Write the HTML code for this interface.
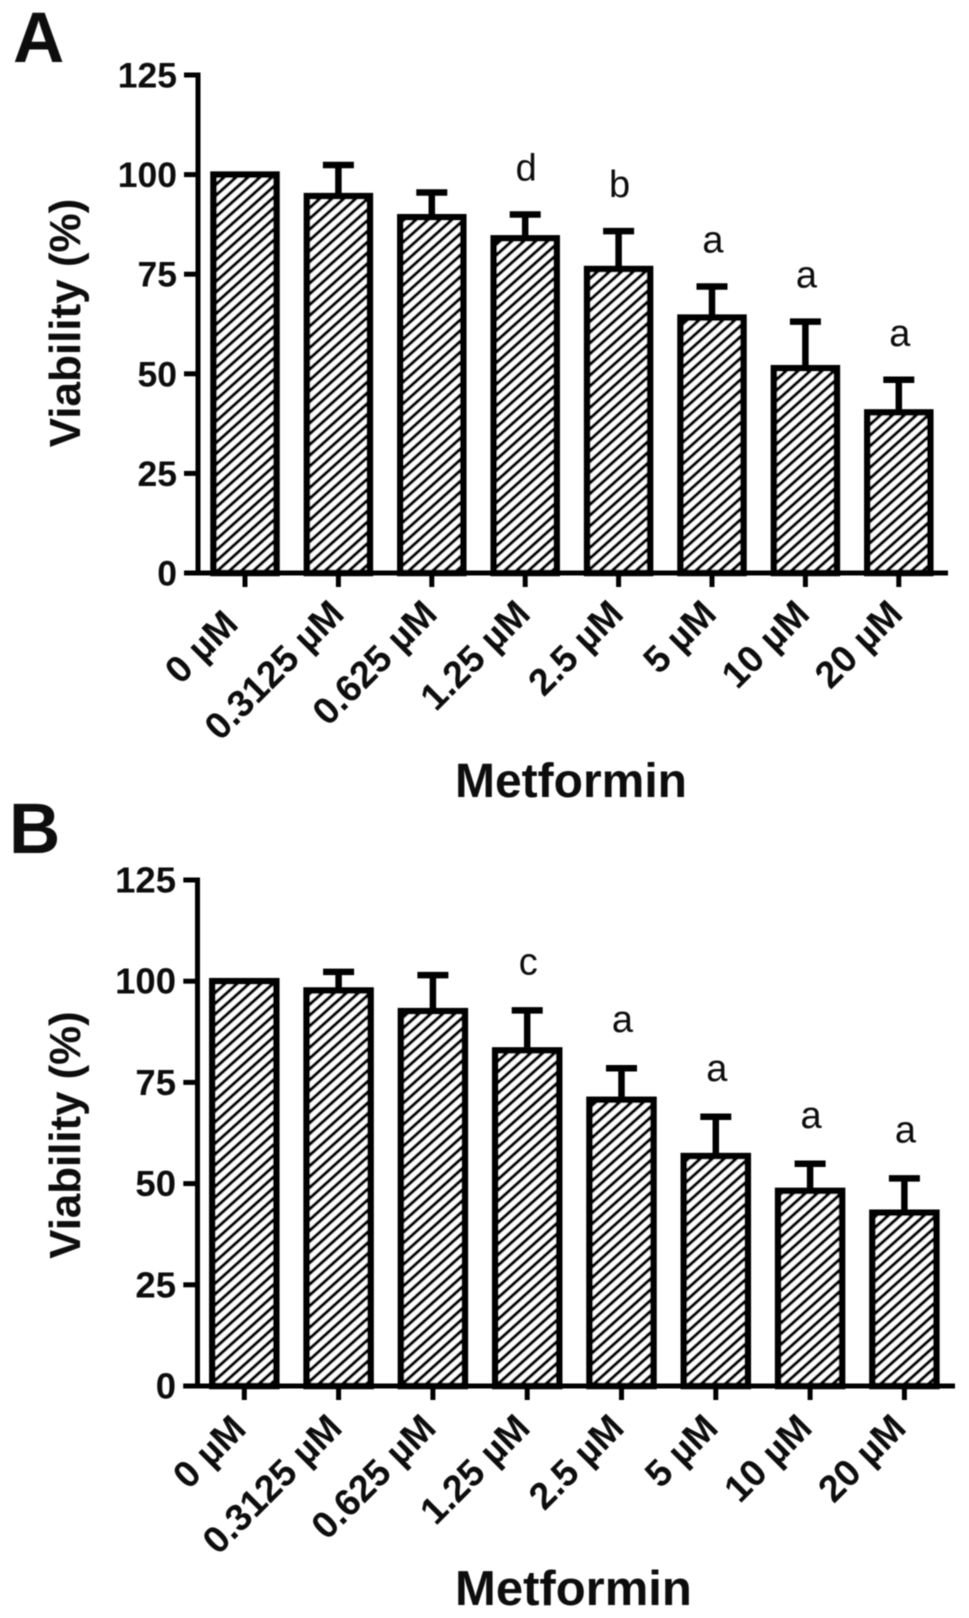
<!DOCTYPE html>
<html lang="en">
<head>
<meta charset="utf-8">
<title>Metformin viability bar charts</title>
<style>
html,body{margin:0;padding:0;background:#fff;width:969px;height:1618px;overflow:hidden}
svg{display:block}
text{font-family:"Liberation Sans",Arial,sans-serif;fill:#0a0a0a}
</style>
</head>
<body>
<svg id="figure" xmlns="http://www.w3.org/2000/svg" width="969" height="1618" viewBox="0 0 969 1618">
  <defs>
    <pattern id="hatch" patternUnits="userSpaceOnUse" width="8" height="8" patternTransform="rotate(48)">
      <rect width="8" height="8" fill="#ffffff"/>
      <rect width="3.3" height="8" fill="#000000"/>
    </pattern>
    <filter id="soften" x="-2%" y="-2%" width="104%" height="104%">
      <feGaussianBlur stdDeviation="0.65"/>
    </filter>
  </defs>
  <g id="root" filter="url(#soften)"></g>
</svg>
<script>
const categories = ["0 µM", "0.3125 µM", "0.625 µM", "1.25 µM", "2.5 µM", "5 µM", "10 µM", "20 µM"];
const valueTicks = [0, 25, 50, 75, 100, 125];
const viabilityA = [100, 94.6, 89.3, 84, 76.3, 64.1, 51.4, 40.3];
const errorTopA = [null, 102.4, 95.5, 90, 85.8, 71.9, 63.1, 48.5];
const lettersA = ["", "", "", "d", "b", "a", "a", "a"];
const viabilityB = [100, 97.7, 92.6, 82.9, 70.7, 56.8, 48.2, 42.8];
const errorTopB = [null, 102.3, 101.5, 92.8, 78.5, 66.5, 54.9, 51.3];
const lettersB = ["", "", "", "c", "a", "a", "a", "a"];

const NS = "http://www.w3.org/2000/svg";
const root = document.getElementById("root");

function shape(parent, tag) {
  const el = document.createElementNS(NS, tag);
  parent.appendChild(el);
  return el;
}
function setAll(el, attrs) {
  for (const k in attrs) el.setAttribute(k, attrs[k]);
  return el;
}

function drawPanel(p, values, errors, letters) {
  const yScale = v => p.zeroY - v * p.pxPerUnit;
  const xScale = i => p.firstX + i * p.stepX;
  const labelX = i => (i === 0 ? p.firstLabelX : p.labelX0 + (i - 1) * p.labelStep);
  const labelY = i => (i === 0 ? p.firstLabelY : p.labelY);

  const g = shape(root, "g");
  
  

  const panelLetter = shape(g, "text");
  setAll(panelLetter, {x: p.letterX, y: p.letterY, "font-size": 71, "font-weight": "bold"});
  panelLetter.textContent = p.letter;
  
  

  values.forEach((v, i) => {
    const bar = shape(g, "rect");
    setAll(bar, {
      x: xScale(i) - p.barWidth / 2,
      y: yScale(v),
      width: p.barWidth,
      height: yScale(0) - yScale(v),
      fill: "url(#hatch)",
      stroke: "#000",
      "stroke-width": 6.5
    });
    
    

    if (errors[i] !== null) {
      const stem = shape(g, "line");
      setAll(stem, {x1: xScale(i), x2: xScale(i), y1: yScale(v) - 3, y2: yScale(errors[i]), stroke: "#000", "stroke-width": 6.5});
      
      

      const cap = shape(g, "line");
      setAll(cap, {x1: xScale(i) - 15.5, x2: xScale(i) + 15.5, y1: yScale(errors[i]), y2: yScale(errors[i]), stroke: "#000", "stroke-width": 6.5});
      
      
    }

    if (letters[i]) {
      const sig = shape(g, "text");
      setAll(sig, {x: xScale(i) + 1, y: yScale(errors[i]) - p.letterGap, "font-size": 38, "text-anchor": "middle"});
      sig.textContent = letters[i];
      
      
    }

    const tick = shape(g, "line");
    setAll(tick, {x1: xScale(i), x2: xScale(i), y1: yScale(0), y2: yScale(0) + 14, stroke: "#000", "stroke-width": 5});
    
    

    const label = shape(g, "text");
    setAll(label, {
      x: 0, y: 0,
      "font-size": p.catFont,
      "font-weight": "bold",
      "text-anchor": "end",
      transform: "translate(" + labelX(i) + "," + labelY(i) + ") rotate(-45)"
    });
    label.textContent = categories[i];
    
    
  });

  const yAxis = shape(g, "line");
  setAll(yAxis, {x1: p.axisX, x2: p.axisX, y1: yScale(125) - 2.5, y2: yScale(0) + 2.5, stroke: "#000", "stroke-width": 5});
  
  

  const xAxis = shape(g, "line");
  setAll(xAxis, {x1: p.tickLeft, x2: p.axisRight, y1: yScale(0), y2: yScale(0), stroke: "#000", "stroke-width": 5});
  
  

  valueTicks.forEach(t => {
    const tick = shape(g, "line");
    setAll(tick, {x1: p.tickLeft, x2: p.axisX, y1: yScale(t), y2: yScale(t), stroke: "#000", "stroke-width": 5});
    
    

    const label = shape(g, "text");
    setAll(label, {x: p.tickTextX, y: yScale(t) + 12.5, "font-size": p.tickFont, "font-weight": "bold", "text-anchor": "end"});
    label.textContent = t;
    
    
  });

  const yTitle = shape(g, "text");
  setAll(yTitle, {
    x: 0, y: 0,
    "font-size": p.yTitleFont,
    "font-weight": "bold",
    "text-anchor": "middle",
    transform: "translate(80," + p.yTitleY + ") rotate(-90)"
  });
  yTitle.textContent = "Viability (%)";
  
  

  const xTitle = shape(g, "text");
  setAll(xTitle, {x: p.xTitleX, y: p.xTitleY, "font-size": p.xTitleFont, "font-weight": "bold"});
  xTitle.textContent = "Metformin";
  
  
}

drawPanel({
  name: "panel-a", letter: "A", letterX: 13, letterY: 62,
  zeroY: 573, pxPerUnit: 3.984, firstX: 245, stepX: 93.4, barWidth: 63,
  axisX: 198, tickLeft: 184, axisRight: 948, tickTextX: 177, tickFont: 35.5,
  labelX0: 346, labelStep: 93.1, labelY: 616, firstLabelX: 240, firstLabelY: 626, catFont: 37.5,
  yTitleY: 323, yTitleFont: 44, xTitleX: 455, xTitleY: 797, xTitleFont: 48, letterGap: 34
}, viabilityA, errorTopA, lettersA);

drawPanel({
  name: "panel-b", letter: "B", letterX: 9, letterY: 853,
  zeroY: 1386, pxPerUnit: 4.048, firstX: 244.3, stepX: 94.3, barWidth: 64,
  axisX: 197.5, tickLeft: 183.3, axisRight: 955, tickTextX: 176, tickFont: 36.5,
  labelX0: 344, labelStep: 94, labelY: 1430, firstLabelX: 248, firstLabelY: 1431, catFont: 37.5,
  yTitleY: 1135, yTitleFont: 43.8, xTitleX: 455, xTitleY: 1605, xTitleFont: 49, letterGap: 36
}, viabilityB, errorTopB, lettersB);
</script>
</body>
</html>
